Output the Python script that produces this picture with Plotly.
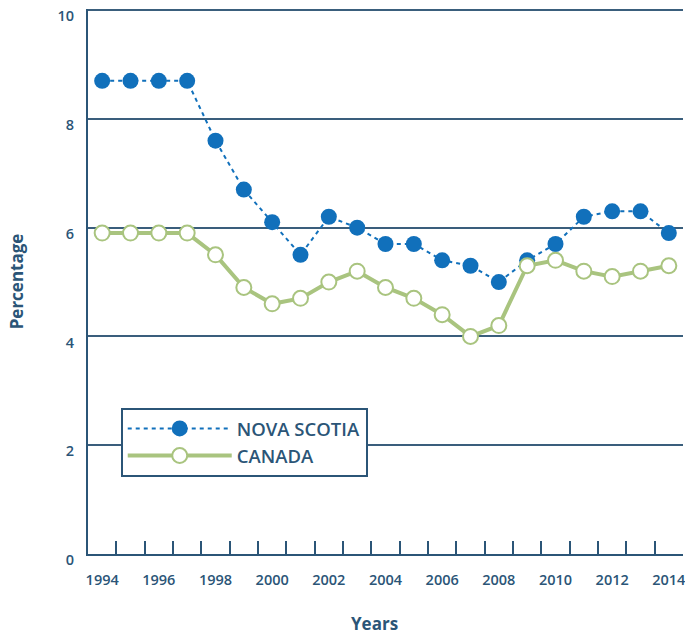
import plotly.graph_objects as go

years = list(range(1994, 2015))
nova_scotia = [8.7, 8.7, 8.7, 8.7, 7.6, 6.7, 6.1, 5.5, 6.2, 6.0, 5.7, 5.7, 5.4, 5.3, 5.0, 5.4, 5.7, 6.2, 6.3, 6.3, 5.9]
canada = [5.9, 5.9, 5.9, 5.9, 5.5, 4.9, 4.6, 4.7, 5.0, 5.2, 4.9, 4.7, 4.4, 4.0, 4.2, 5.3, 5.4, 5.2, 5.1, 5.2, 5.3]
x_tick_years = list(range(1994, 2015, 2))
y_ticks = [0, 2, 4, 6, 8, 10]

DARK = "#2B5577"
BLUE = "#1170BB"
GREEN = "#A9C47F"
FONT = "Open Sans"

fig = go.Figure()
fig.add_trace(go.Scatter(
    x=years, y=nova_scotia, name="NOVA SCOTIA", mode="lines+markers",
    line=dict(color=BLUE, width=2, dash="4px,4px"),
    marker=dict(color=BLUE, size=16, line=dict(width=0)),
))
fig.add_trace(go.Scatter(
    x=years, y=canada, name="CANADA", mode="lines+markers",
    line=dict(color=GREEN, width=4),
    marker=dict(color="white", size=15, line=dict(color=GREEN, width=2)),
))

fig.update_layout(
    width=685, height=635,
    margin=dict(l=88, r=2, t=9, b=81),
    plot_bgcolor="white", paper_bgcolor="white",
    font=dict(family=FONT, color=DARK, size=15),
    showlegend=True,
    legend=dict(
        x=0.055, y=0.268, xanchor="left", yanchor="top",
        bgcolor="white", bordercolor=DARK, borderwidth=2,
        font=dict(family=FONT, size=18.5, color=DARK, weight=600),
        itemwidth=104, tracegroupgap=0,
    ),
    annotations=[dict(
        text="Years", xref="paper", yref="paper", x=0.481, y=0,
        xanchor="center", yanchor="middle", yshift=-69, showarrow=False,
        font=dict(family=FONT, size=17, color=DARK, weight=700),
    )],
)
fig.update_xaxes(
    range=[1993.5, 2014.5], automargin=False,
    tickvals=x_tick_years, ticktext=[str(y) for y in x_tick_years],
    ticks="", ticklabelstandoff=12, ticklabeloverflow="allow",
    tickfont=dict(family=FONT, size=14.5, color=DARK, weight=600),
    showgrid=False, zeroline=False,
    showline=True, linecolor=DARK, linewidth=2,
    minor=dict(tickvals=[y + 0.5 for y in years[:-1]], ticks="inside", ticklen=13,
               tickcolor=DARK, tickwidth=2, showgrid=False),
)
fig.update_yaxes(
    range=[0, 10.02], tickvals=y_ticks, ticks="", automargin=False,
    ticklabelstandoff=9, ticklabeloverflow="allow", ticklabelshift=6,
    tickfont=dict(family=FONT, size=14.5, color=DARK, weight=600),
    showgrid=True, gridcolor="#3A5E7C", gridwidth=1.5,
    zeroline=False, showline=True, linecolor=DARK, linewidth=2,
    title=dict(text="Percentage", font=dict(family=FONT, size=17, color=DARK, weight=700), standoff=30),
)

fig.write_html("out.html", config={"displayModeBar": False},
               post_script="document.body.style.margin='0';document.body.style.overflow='hidden';")
